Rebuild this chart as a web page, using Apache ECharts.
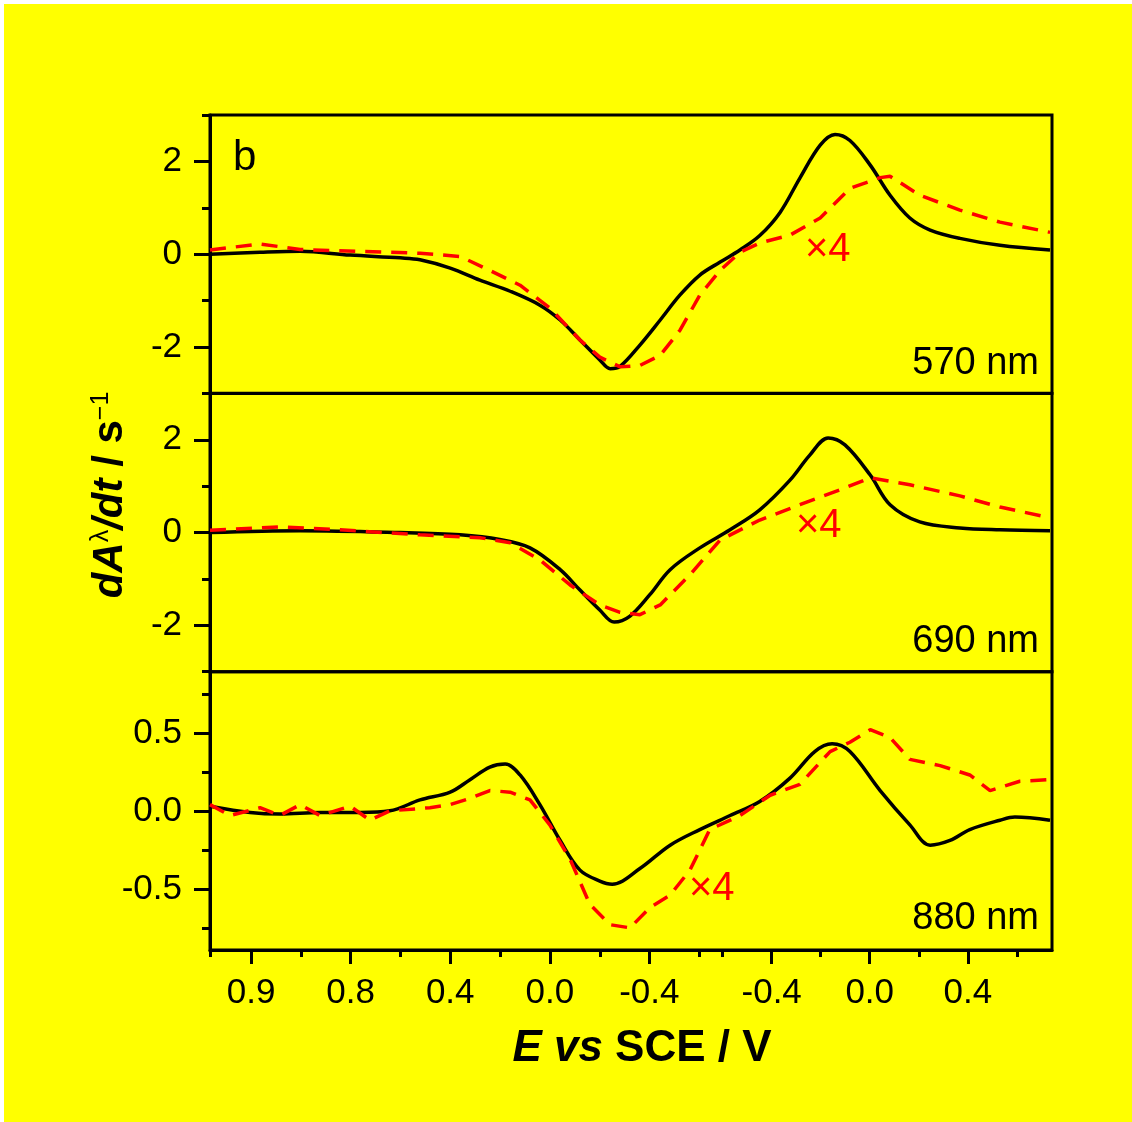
<!DOCTYPE html>
<html>
<head>
<meta charset="utf-8">
<title>dA/dt vs E</title>
<script src="https://cdn.jsdelivr.net/npm/echarts@6/dist/echarts.min.js"></script>
<style>
    html, body { margin: 0; padding: 0; background: #ffffff; }
    #chart { position: absolute; left: 4px; top: 4px; width: 1128px; height: 1118px; }
</style>
</head>
<body>
<div id="chart"></div>
<script>
"use strict";

/* ==========================================================
   DATA — x is the sweep coordinate (time units), y is dA/dt
   ========================================================== */

const xMajorTicks = [0.83, 2.84, 4.85, 6.86, 8.87, 11.34, 13.32, 15.30];
const xMajorLabels = ["0.9", "0.8", "0.4", "0.0", "-0.4", "-0.4", "0.0", "0.4"];
const xMinorTicks = [0, 1.84, 3.85, 5.86, 7.87, 9.87, 10.34, 12.33, 14.31, 16.29];

const yMajorTicksAB = [-2, 0, 2];
const yMinorTicksAB = [-3, -1, 1, 3];
const yMajorTicksC = [-0.5, 0, 0.5];
const yMinorTicksC = [-0.75, -0.25, 0.25, 0.75];

const panelNames = ["570 nm", "690 nm", "880 nm"];

const solid570 = [
    [0.00, 0.00], [1.01, 0.04], [1.82, 0.06], [2.83, -0.02], [3.84, -0.08], [4.24, -0.12],
    [4.85, -0.30], [5.45, -0.56], [6.06, -0.80], [6.66, -1.10], [7.07, -1.42], [7.47, -1.85],
    [7.87, -2.28], [8.08, -2.47], [8.28, -2.42], [8.68, -1.96], [9.09, -1.42], [9.49, -0.88],
    [9.89, -0.45], [10.30, -0.17], [10.70, 0.09], [11.10, 0.40], [11.51, 0.90], [11.91, 1.64],
    [12.32, 2.35], [12.62, 2.58], [12.92, 2.45], [13.33, 1.92], [13.73, 1.27], [14.13, 0.78],
    [14.54, 0.52], [15.14, 0.34], [15.95, 0.19], [16.96, 0.09]
];
const dashed570 = [
    [0.00, 0.09], [1.01, 0.22], [1.82, 0.10], [3.03, 0.06], [4.24, 0.02], [5.05, -0.05],
    [5.65, -0.35], [6.26, -0.67], [6.86, -1.16], [7.47, -1.85], [7.87, -2.22], [8.28, -2.43],
    [8.68, -2.40], [9.09, -2.18], [9.49, -1.64], [9.89, -0.88], [10.30, -0.35], [10.70, 0.04],
    [11.10, 0.24], [11.71, 0.41], [12.32, 0.78], [12.92, 1.42], [13.53, 1.65], [13.73, 1.68],
    [14.33, 1.27], [15.14, 0.95], [15.95, 0.69], [16.96, 0.47]
];

const solid690 = [
    [0.00, 0.00], [1.82, 0.04], [3.84, 0.00], [5.05, -0.05], [5.85, -0.15], [6.46, -0.33],
    [7.07, -0.80], [7.47, -1.24], [7.87, -1.67], [8.16, -1.93], [8.48, -1.80], [8.88, -1.34],
    [9.29, -0.80], [9.89, -0.33], [10.50, 0.06], [11.10, 0.49], [11.71, 1.13], [12.11, 1.67],
    [12.48, 2.04], [12.82, 1.89], [13.33, 1.24], [13.73, 0.60], [14.33, 0.23], [15.14, 0.10],
    [15.95, 0.06], [16.96, 0.04]
];
const dashed690 = [
    [0.00, 0.05], [1.41, 0.12], [2.62, 0.06], [4.24, -0.05], [5.45, -0.11], [6.06, -0.22],
    [6.66, -0.59], [7.27, -1.13], [7.87, -1.56], [8.28, -1.72], [8.68, -1.77], [9.09, -1.56],
    [9.69, -0.91], [10.30, -0.16], [11.10, 0.27], [11.91, 0.60], [12.72, 0.92], [13.33, 1.18],
    [14.13, 1.03], [15.14, 0.79], [15.95, 0.55], [16.96, 0.32]
];

const solid880 = [
    [0.00, 0.03], [0.81, -0.01], [1.41, -0.02], [2.22, -0.01], [3.03, -0.01], [3.63, 0.00],
    [4.24, 0.07], [4.85, 0.12], [5.25, 0.20], [5.65, 0.28], [5.96, 0.30], [6.26, 0.23],
    [6.66, 0.04], [7.07, -0.19], [7.47, -0.38], [7.87, -0.45], [8.12, -0.47], [8.68, -0.37],
    [9.29, -0.22], [9.89, -0.12], [10.50, -0.03], [11.10, 0.06], [11.71, 0.21], [12.21, 0.38],
    [12.56, 0.43], [12.92, 0.38], [13.53, 0.13], [14.13, -0.09], [14.54, -0.22], [14.94, -0.19],
    [15.34, -0.12], [15.95, -0.06], [16.25, -0.04], [16.96, -0.06]
];
const dashed880 = [
    [0.00, 0.04], [0.40, -0.03], [1.01, 0.02], [1.41, -0.03], [1.82, 0.04], [2.22, -0.03],
    [2.83, 0.03], [3.23, -0.06], [3.63, 0.00], [4.44, 0.02], [4.85, 0.04], [5.25, 0.08],
    [5.65, 0.13], [6.06, 0.12], [6.46, 0.07], [6.86, -0.09], [7.27, -0.31], [7.67, -0.60],
    [8.08, -0.73], [8.48, -0.75], [8.88, -0.62], [9.29, -0.54], [9.69, -0.38], [10.09, -0.12],
    [10.70, -0.03], [11.31, 0.10], [11.91, 0.17], [12.52, 0.38], [12.92, 0.44], [13.33, 0.52],
    [13.73, 0.47], [14.13, 0.33], [14.74, 0.29], [15.34, 0.23], [15.75, 0.13], [16.35, 0.19],
    [16.96, 0.20]
];

/* ==========================================================
   LAYOUT / STYLE
   ========================================================== */

const FONT = "'Liberation Sans', Arial, Helvetica, sans-serif";
const INK = "#000000";
const RED = "#FF0000";
const X_MIN = 0;
const X_MAX = 17;
const GRID_LEFT = 206;
const GRID_WIDTH = 842;
const PANEL_TOPS = [111, 389.4, 667.7];
const PANEL_HEIGHT = 278.3;
const Y_RANGES = [[-3, 3], [-3, 3], [-0.892, 0.892]];

function makeGrid(i){
    return {
        left: GRID_LEFT,
        top: PANEL_TOPS[i],
        width: GRID_WIDTH,
        height: PANEL_HEIGHT,
        show: true,
        borderColor: INK,
        borderWidth: 3,
        backgroundColor: "transparent"
    };
}

function hiddenXAxis(i){
    return {
        type: "value", gridIndex: i, min: X_MIN, max: X_MAX, position: "bottom",
        axisLine: { show: false, onZero: false }, axisTick: { show: false },
        axisLabel: { show: false }, splitLine: { show: false }
    };
}

function bottomMajorXAxis(i){
    return {
        type: "value", gridIndex: i, min: X_MIN, max: X_MAX, position: "bottom",
        axisLine: { show: true, onZero: false, lineStyle: { color: INK, width: 3 } },
        axisTick: { show: true, length: 14, customValues: xMajorTicks, lineStyle: { color: INK, width: 3 } },
        axisLabel: {
            show: true, customValues: xMajorTicks, margin: 26,
            color: INK, fontSize: 35, fontFamily: FONT,
            formatter: v => xMajorLabels[xMajorTicks.indexOf(v)] || ""
        },
        splitLine: { show: false }
    };
}

function bottomMinorXAxis(i){
    return {
        type: "value", gridIndex: i, min: X_MIN, max: X_MAX, position: "bottom",
        axisLine: { show: false, onZero: false },
        axisTick: { show: true, length: 7, customValues: xMinorTicks, lineStyle: { color: INK, width: 3 } },
        axisLabel: { show: false },
        splitLine: { show: false }
    };
}

function majorYAxis(i, ticks, digits){
    return {
        type: "value", gridIndex: i, min: Y_RANGES[i][0], max: Y_RANGES[i][1], position: "left",
        axisLine: { show: true, onZero: false, lineStyle: { color: INK, width: 3 } },
        axisTick: { show: true, length: 16, customValues: ticks, lineStyle: { color: INK, width: 3 } },
        axisLabel: {
            show: true, customValues: ticks, margin: 28,
            color: INK, fontSize: 35, fontFamily: FONT,
            formatter: v => digits ? v.toFixed(digits) : String(v)
        },
        splitLine: { show: false }
    };
}

function minorYAxis(i, ticks){
    return {
        type: "value", gridIndex: i, min: Y_RANGES[i][0], max: Y_RANGES[i][1], position: "left",
        axisLine: { show: false, onZero: false },
        axisTick: { show: true, length: 8, customValues: ticks, lineStyle: { color: INK, width: 3 } },
        axisLabel: { show: false },
        splitLine: { show: false }
    };
}

function solidSeries(i, data){
    return {
        type: "line", xAxisIndex: i, yAxisIndex: i * 2, data,
        smooth: 0.35, showSymbol: false, silent: true, z: 3,
        lineStyle: { color: INK, width: 3.5 }
    };
}

function dashedSeries(i, data){
    return {
        type: "line", xAxisIndex: i, yAxisIndex: i * 2, data,
        smooth: false, showSymbol: false, silent: true, z: 4,
        lineStyle: { color: RED, width: 3.5, type: [16, 10] }
    };
}

function label(x, y, text, size, color, align){
    return {
        type: "text", x, y, silent: true, z: 10,
        style: {
            text, fill: color, font: size + "px " + FONT,
            align: align || "left", verticalAlign: "middle"
        }
    };
}

/* ==========================================================
   RENDER
   ========================================================== */

const chart = echarts.init(document.getElementById("chart"), null, { renderer: "canvas" });

chart.setOption({
    backgroundColor: "#FFFF00",
    animation: false,
    grid: [makeGrid(0), makeGrid(1), makeGrid(2)],
    xAxis: [hiddenXAxis(0), hiddenXAxis(1), bottomMajorXAxis(2), bottomMinorXAxis(2)],
    yAxis: [
        majorYAxis(0, yMajorTicksAB, 0), minorYAxis(0, yMinorTicksAB),
        majorYAxis(1, yMajorTicksAB, 0), minorYAxis(1, yMinorTicksAB),
        majorYAxis(2, yMajorTicksC, 1), minorYAxis(2, yMinorTicksC)
    ],
    series: [
        solidSeries(0, solid570), dashedSeries(0, dashed570),
        solidSeries(1, solid690), dashedSeries(1, dashed690),
        solidSeries(2, solid880), dashedSeries(2, dashed880)
    ],
    graphic: [
        label(229, 154, "b", 42, INK),
        label(1035, 360, panelNames[0], 38, INK, "right"),
        label(1035, 638, panelNames[1], 38, INK, "right"),
        label(1035, 915, panelNames[2], 38, INK, "right"),
        label(801, 246, "\u00d74", 40, RED),
        label(792, 522, "\u00d74", 40, RED),
        label(685, 885, "\u00d74", 40, RED),
        {
            type: "text", x: 638, y: 1045, silent: true, z: 10,
            style: {
                text: "{i|E vs }{b|SCE / V}",
                align: "center", verticalAlign: "middle", fill: INK,
                rich: {
                    i: { fontSize: 44, fontWeight: "bold", fontStyle: "italic", fontFamily: FONT, fill: INK },
                    b: { fontSize: 44, fontWeight: "bold", fontFamily: FONT, fill: INK }
                }
            }
        },
        {
            type: "text", x: 106, y: 491, rotation: Math.PI / 2, silent: true, z: 10,
            style: {
                text: "{i|dA}{sup|\u03bb}{i|/dt}{b| / s}{sup|\u22121}",
                align: "center", verticalAlign: "middle", fill: INK,
                rich: {
                    i: { fontSize: 42, fontWeight: "bold", fontStyle: "italic", fontFamily: FONT, fill: INK },
                    b: { fontSize: 42, fontWeight: "bold", fontFamily: FONT, fill: INK },
                    sup: { fontSize: 25, fontFamily: FONT, fill: INK, verticalAlign: "top" }
                }
            }
        }
    ]
});

window.addEventListener("resize", () => chart.resize());
</script>
</body>
</html>
